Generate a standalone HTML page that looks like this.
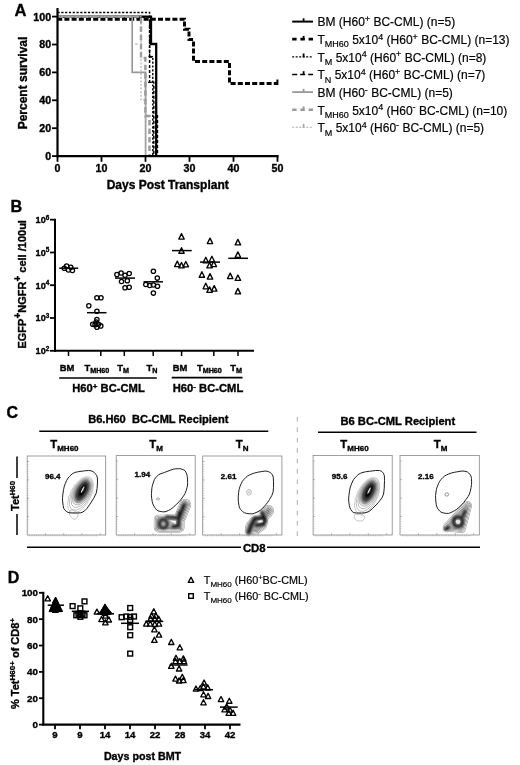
<!DOCTYPE html>
<html lang="en"><head><meta charset="utf-8"><title>Figure</title>
<style>html,body{margin:0;padding:0;background:#fff}svg{display:block}text{font-family:'Liberation Sans', sans-serif}text{stroke:#000;stroke-width:.18px}text[font-weight=bold]{stroke:#000;stroke-width:.35px}</style>
</head><body>
<svg width="520" height="765" viewBox="0 0 520 765">
<rect width="520" height="765" fill="#fff"/>
<g id="panelA">
<text x="14.6" y="15.6" font-size="16.6" font-weight="bold" text-anchor="start" fill="#000">A</text>
<path d="M57.2 16.6 H151 V44 H156.2 V156" stroke="#000" stroke-width="2.3" fill="none"/>
<path d="M57.2 19.3 H184.5 V29.2 H189 V39.6 H193.5 V61.5 H229.5 V83.5 H277.4" stroke="#000" stroke-width="3.0" fill="none" stroke-dasharray="5 2.2"/>
<line x1="277.4" y1="79.5" x2="277.4" y2="85" stroke="#000" stroke-width="2"/>
<path d="M57.5 12.5 H149.6 V57 H152.8 V156" stroke="#000" stroke-width="1.4" fill="none" stroke-dasharray="2.2 1.6"/>
<path d="M57.5 17 H149.6 V82.3 H153.8 V156" stroke="#000" stroke-width="1.5" fill="none" stroke-dasharray="3 2"/>
<path d="M157.4 115 V156" stroke="#000" stroke-width="1.6" fill="none" stroke-dasharray="3 2"/>
<path d="M57.2 16.6 H132.2 V72.3 H145.6 V156" stroke="#999" stroke-width="1.7" fill="none"/>
<path d="M57.5 16.6 H141 V58 H145.4 V116 H149.5 V156" stroke="#9a9a9a" stroke-width="2.4" fill="none" stroke-dasharray="5.5 3"/>
<path d="M57.2 16.6 H141 V100 H145.5 V156" stroke="#aaa" stroke-width="1.1" fill="none" stroke-dasharray="2 1.6"/>
<line x1="135" y1="44" x2="138" y2="44" stroke="#999" stroke-width="0.8"/>
<line x1="148.5" y1="56.5" x2="153" y2="56.5" stroke="#000" stroke-width="1.2"/>
<line x1="148" y1="82.3" x2="152" y2="82.3" stroke="#000" stroke-width="1.2"/>
<line x1="57.5" y1="8" x2="57.5" y2="157.2" stroke="#000" stroke-width="2.2"/>
<line x1="56.4" y1="156.1" x2="278.6" y2="156.1" stroke="#000" stroke-width="2.2"/>
<line x1="52" y1="156.1" x2="57.5" y2="156.1" stroke="#000" stroke-width="1.8"/>
<text x="51.2" y="160.0" font-size="10.7" font-weight="bold" text-anchor="end" fill="#000">0</text>
<line x1="52" y1="128.2" x2="57.5" y2="128.2" stroke="#000" stroke-width="1.8"/>
<text x="51.2" y="132.1" font-size="10.7" font-weight="bold" text-anchor="end" fill="#000">20</text>
<line x1="52" y1="100.3" x2="57.5" y2="100.3" stroke="#000" stroke-width="1.8"/>
<text x="51.2" y="104.2" font-size="10.7" font-weight="bold" text-anchor="end" fill="#000">40</text>
<line x1="52" y1="72.39999999999999" x2="57.5" y2="72.39999999999999" stroke="#000" stroke-width="1.8"/>
<text x="51.2" y="76.3" font-size="10.7" font-weight="bold" text-anchor="end" fill="#000">60</text>
<line x1="52" y1="44.5" x2="57.5" y2="44.5" stroke="#000" stroke-width="1.8"/>
<text x="51.2" y="48.4" font-size="10.7" font-weight="bold" text-anchor="end" fill="#000">80</text>
<line x1="52" y1="16.599999999999994" x2="57.5" y2="16.599999999999994" stroke="#000" stroke-width="1.8"/>
<text x="51.2" y="20.499999999999993" font-size="10.7" font-weight="bold" text-anchor="end" fill="#000">100</text>
<line x1="57.5" y1="156.1" x2="57.5" y2="161.8" stroke="#000" stroke-width="1.8"/>
<text x="57.5" y="172" font-size="10.7" font-weight="bold" text-anchor="middle" fill="#000">0</text>
<line x1="101.5" y1="156.1" x2="101.5" y2="161.8" stroke="#000" stroke-width="1.8"/>
<text x="101.5" y="172" font-size="10.7" font-weight="bold" text-anchor="middle" fill="#000">10</text>
<line x1="145.5" y1="156.1" x2="145.5" y2="161.8" stroke="#000" stroke-width="1.8"/>
<text x="145.5" y="172" font-size="10.7" font-weight="bold" text-anchor="middle" fill="#000">20</text>
<line x1="189.5" y1="156.1" x2="189.5" y2="161.8" stroke="#000" stroke-width="1.8"/>
<text x="189.5" y="172" font-size="10.7" font-weight="bold" text-anchor="middle" fill="#000">30</text>
<line x1="233.5" y1="156.1" x2="233.5" y2="161.8" stroke="#000" stroke-width="1.8"/>
<text x="233.5" y="172" font-size="10.7" font-weight="bold" text-anchor="middle" fill="#000">40</text>
<line x1="277.5" y1="156.1" x2="277.5" y2="161.8" stroke="#000" stroke-width="1.8"/>
<text x="277.5" y="172" font-size="10.7" font-weight="bold" text-anchor="middle" fill="#000">50</text>
<text x="26.7" y="83" font-size="12" font-weight="bold" text-anchor="middle" fill="#000" transform="rotate(-90 26.7 83)">Percent survival</text>
<text x="167.7" y="188.8" font-size="12" font-weight="bold" text-anchor="middle" fill="#000">Days Post Transplant</text>
</g>
<g id="legendA">
<line x1="292.2" y1="21.6" x2="313" y2="21.6" stroke="#000" stroke-width="2"/>
<line x1="303.6" y1="18.3" x2="303.6" y2="22.1" stroke="#000" stroke-width="1.8"/>
<text x="317.5" y="26.4" font-size="12" text-anchor="start" fill="#000">BM (H60<tspan font-size="9" dy="-4.4">+</tspan><tspan dy="4.4" font-size="0.1">&#8203;</tspan> BC-CML) (n=5)</text>
<line x1="292.2" y1="39.2" x2="313" y2="39.2" stroke="#000" stroke-width="2.8" stroke-dasharray="4.4 3.8"/>
<line x1="303.6" y1="35.9" x2="303.6" y2="39.7" stroke="#000" stroke-width="1.8"/>
<text x="317.5" y="44.0" font-size="12" text-anchor="start" fill="#000">T<tspan font-size="9" dy="3.4">MH60</tspan><tspan dy="-3.4" font-size="0.1">&#8203;</tspan> 5x10<tspan font-size="9" dy="-4.4">4</tspan><tspan dy="4.4" font-size="0.1">&#8203;</tspan> (H60<tspan font-size="9" dy="-4.4">+</tspan><tspan dy="4.4" font-size="0.1">&#8203;</tspan> BC-CML) (n=13)</text>
<line x1="292.2" y1="56.8" x2="313" y2="56.8" stroke="#000" stroke-width="1.2" stroke-dasharray="2 1.5"/>
<line x1="303.6" y1="53.5" x2="303.6" y2="57.3" stroke="#000" stroke-width="1.8"/>
<text x="317.5" y="61.6" font-size="12" text-anchor="start" fill="#000">T<tspan font-size="9" dy="3.4">M</tspan><tspan dy="-3.4" font-size="0.1">&#8203;</tspan> 5x10<tspan font-size="9" dy="-4.4">4</tspan><tspan dy="4.4" font-size="0.1">&#8203;</tspan> (H60<tspan font-size="9" dy="-4.4">+</tspan><tspan dy="4.4" font-size="0.1">&#8203;</tspan> BC-CML) (n=8)</text>
<line x1="292.2" y1="74.5" x2="313" y2="74.5" stroke="#000" stroke-width="1.7" stroke-dasharray="5 3"/>
<line x1="303.6" y1="71.2" x2="303.6" y2="75.0" stroke="#000" stroke-width="1.8"/>
<text x="317.5" y="79.3" font-size="12" text-anchor="start" fill="#000">T<tspan font-size="9" dy="3.4">N</tspan><tspan dy="-3.4" font-size="0.1">&#8203;</tspan> 5x10<tspan font-size="9" dy="-4.4">4</tspan><tspan dy="4.4" font-size="0.1">&#8203;</tspan> (H60<tspan font-size="9" dy="-4.4">+</tspan><tspan dy="4.4" font-size="0.1">&#8203;</tspan> BC-CML) (n=7)</text>
<line x1="292.2" y1="92.1" x2="313" y2="92.1" stroke="#999" stroke-width="1.8"/>
<line x1="303.6" y1="88.8" x2="303.6" y2="92.6" stroke="#999" stroke-width="1.8"/>
<text x="317.5" y="96.9" font-size="12" text-anchor="start" fill="#000">BM (H60<tspan font-size="9" dy="-4.4">-</tspan><tspan dy="4.4" font-size="0.1">&#8203;</tspan> BC-CML) (n=5)</text>
<line x1="292.2" y1="109.7" x2="313" y2="109.7" stroke="#9a9a9a" stroke-width="2.6" stroke-dasharray="4.4 3.8"/>
<line x1="303.6" y1="106.4" x2="303.6" y2="110.2" stroke="#9a9a9a" stroke-width="1.8"/>
<text x="317.5" y="114.5" font-size="12" text-anchor="start" fill="#000">T<tspan font-size="9" dy="3.4">MH60</tspan><tspan dy="-3.4" font-size="0.1">&#8203;</tspan> 5x10<tspan font-size="9" dy="-4.4">4</tspan><tspan dy="4.4" font-size="0.1">&#8203;</tspan> (H60<tspan font-size="9" dy="-4.4">-</tspan><tspan dy="4.4" font-size="0.1">&#8203;</tspan> BC-CML) (n=10)</text>
<line x1="292.2" y1="127.3" x2="313" y2="127.3" stroke="#aaa" stroke-width="1.1" stroke-dasharray="2 1.5"/>
<line x1="303.6" y1="124.0" x2="303.6" y2="127.8" stroke="#aaa" stroke-width="1.8"/>
<text x="317.5" y="132.1" font-size="12" text-anchor="start" fill="#000">T<tspan font-size="9" dy="3.4">M</tspan><tspan dy="-3.4" font-size="0.1">&#8203;</tspan> 5x10<tspan font-size="9" dy="-4.4">4</tspan><tspan dy="4.4" font-size="0.1">&#8203;</tspan> (H60<tspan font-size="9" dy="-4.4">-</tspan><tspan dy="4.4" font-size="0.1">&#8203;</tspan> BC-CML) (n=5)</text>
</g>
<g id="panelB">
<text x="10.6" y="212" font-size="16.2" font-weight="bold" text-anchor="start" fill="#000">B</text>
<line x1="55" y1="218.7" x2="55" y2="351.8" stroke="#000" stroke-width="2"/>
<line x1="54" y1="350.8" x2="254" y2="350.8" stroke="#000" stroke-width="2"/>
<line x1="50" y1="350.8" x2="55" y2="350.8" stroke="#000" stroke-width="1.8"/>
<text x="49.3" y="354.2" font-size="9.1" font-weight="bold" text-anchor="end" fill="#000">10<tspan font-size="6.4" dy="-3.6">2</tspan><tspan dy="3.6" font-size="0.1">&#8203;</tspan></text>
<line x1="50" y1="318" x2="55" y2="318" stroke="#000" stroke-width="1.8"/>
<text x="49.3" y="321.4" font-size="9.1" font-weight="bold" text-anchor="end" fill="#000">10<tspan font-size="6.4" dy="-3.6">3</tspan><tspan dy="3.6" font-size="0.1">&#8203;</tspan></text>
<line x1="50" y1="285.2" x2="55" y2="285.2" stroke="#000" stroke-width="1.8"/>
<text x="49.3" y="288.59999999999997" font-size="9.1" font-weight="bold" text-anchor="end" fill="#000">10<tspan font-size="6.4" dy="-3.6">4</tspan><tspan dy="3.6" font-size="0.1">&#8203;</tspan></text>
<line x1="50" y1="252.5" x2="55" y2="252.5" stroke="#000" stroke-width="1.8"/>
<text x="49.3" y="255.9" font-size="9.1" font-weight="bold" text-anchor="end" fill="#000">10<tspan font-size="6.4" dy="-3.6">5</tspan><tspan dy="3.6" font-size="0.1">&#8203;</tspan></text>
<line x1="50" y1="219.7" x2="55" y2="219.7" stroke="#000" stroke-width="1.8"/>
<text x="49.3" y="223.1" font-size="9.1" font-weight="bold" text-anchor="end" fill="#000">10<tspan font-size="6.4" dy="-3.6">6</tspan><tspan dy="3.6" font-size="0.1">&#8203;</tspan></text>
<line x1="68.5" y1="350.8" x2="68.5" y2="356" stroke="#000" stroke-width="1.5"/>
<line x1="100.8" y1="350.8" x2="100.8" y2="356" stroke="#000" stroke-width="1.5"/>
<line x1="124.3" y1="350.8" x2="124.3" y2="356" stroke="#000" stroke-width="1.5"/>
<line x1="153.2" y1="350.8" x2="153.2" y2="356" stroke="#000" stroke-width="1.5"/>
<line x1="181.6" y1="350.8" x2="181.6" y2="356" stroke="#000" stroke-width="1.5"/>
<line x1="213.8" y1="350.8" x2="213.8" y2="356" stroke="#000" stroke-width="1.5"/>
<line x1="238" y1="350.8" x2="238" y2="356" stroke="#000" stroke-width="1.5"/>
<text x="26.3" y="284.3" font-size="11" font-weight="bold" text-anchor="middle" fill="#000" transform="rotate(-90 26.3 284.3)">EGFP<tspan font-size="10" dy="-5">+</tspan><tspan dy="5" font-size="0.1">&#8203;</tspan>NGFR<tspan font-size="10" dy="-5">+</tspan><tspan dy="5" font-size="0.1">&#8203;</tspan> cell /100ul</text>
<circle cx="64.3" cy="268.2" r="2.15" fill="none" stroke="#000" stroke-width="1.3"/>
<circle cx="66.6" cy="266.1" r="2.15" fill="none" stroke="#000" stroke-width="1.3"/>
<circle cx="68.5" cy="270" r="2.15" fill="none" stroke="#000" stroke-width="1.3"/>
<circle cx="70.8" cy="267.2" r="2.15" fill="none" stroke="#000" stroke-width="1.3"/>
<circle cx="72.4" cy="270.5" r="2.15" fill="none" stroke="#000" stroke-width="1.3"/>
<line x1="59.2" y1="268.2" x2="78.2" y2="268.2" stroke="#000" stroke-width="1.5"/>
<circle cx="96.9" cy="297.7" r="2.15" fill="none" stroke="#000" stroke-width="1.3"/>
<circle cx="101" cy="297.7" r="2.15" fill="none" stroke="#000" stroke-width="1.3"/>
<circle cx="88.8" cy="305.8" r="2.15" fill="none" stroke="#000" stroke-width="1.3"/>
<circle cx="96.9" cy="311.3" r="2.15" fill="none" stroke="#000" stroke-width="1.3"/>
<circle cx="96.9" cy="319.6" r="2.15" fill="none" stroke="#000" stroke-width="1.3"/>
<circle cx="96.2" cy="322" r="2.15" fill="none" stroke="#000" stroke-width="1.3"/>
<circle cx="92.7" cy="324.2" r="2.15" fill="none" stroke="#000" stroke-width="1.3"/>
<circle cx="95" cy="324.7" r="2.15" fill="none" stroke="#000" stroke-width="1.3"/>
<circle cx="98.5" cy="324.2" r="2.15" fill="none" stroke="#000" stroke-width="1.3"/>
<circle cx="100.8" cy="325.9" r="2.15" fill="none" stroke="#000" stroke-width="1.3"/>
<circle cx="96.9" cy="327.2" r="2.15" fill="none" stroke="#000" stroke-width="1.3"/>
<line x1="87" y1="312.7" x2="106.5" y2="312.7" stroke="#000" stroke-width="1.5"/>
<circle cx="116.9" cy="274.6" r="2.15" fill="none" stroke="#000" stroke-width="1.3"/>
<circle cx="121.1" cy="273" r="2.15" fill="none" stroke="#000" stroke-width="1.3"/>
<circle cx="125" cy="275.3" r="2.15" fill="none" stroke="#000" stroke-width="1.3"/>
<circle cx="129.2" cy="273.5" r="2.15" fill="none" stroke="#000" stroke-width="1.3"/>
<circle cx="121.5" cy="281.5" r="2.15" fill="none" stroke="#000" stroke-width="1.3"/>
<circle cx="127.3" cy="280.8" r="2.15" fill="none" stroke="#000" stroke-width="1.3"/>
<circle cx="125" cy="287.8" r="2.15" fill="none" stroke="#000" stroke-width="1.3"/>
<circle cx="129.2" cy="287.3" r="2.15" fill="none" stroke="#000" stroke-width="1.3"/>
<line x1="115" y1="278.1" x2="135" y2="278.1" stroke="#000" stroke-width="1.5"/>
<circle cx="153.4" cy="271.2" r="2.15" fill="none" stroke="#000" stroke-width="1.3"/>
<circle cx="157.3" cy="278.1" r="2.15" fill="none" stroke="#000" stroke-width="1.3"/>
<circle cx="145.8" cy="284.5" r="2.15" fill="none" stroke="#000" stroke-width="1.3"/>
<circle cx="149.7" cy="285.5" r="2.15" fill="none" stroke="#000" stroke-width="1.3"/>
<circle cx="153.4" cy="285" r="2.15" fill="none" stroke="#000" stroke-width="1.3"/>
<circle cx="157.5" cy="286.2" r="2.15" fill="none" stroke="#000" stroke-width="1.3"/>
<circle cx="153.4" cy="293.1" r="2.15" fill="none" stroke="#000" stroke-width="1.3"/>
<line x1="143.5" y1="281.8" x2="163" y2="281.8" stroke="#000" stroke-width="1.5"/>
<path d="M178.8 239.1 L181.5 233.6 L184.2 239.1 Z" fill="none" stroke="#000" stroke-width="1.35" stroke-linejoin="round"/>
<path d="M178.8 253.2 L181.5 247.7 L184.2 253.2 Z" fill="none" stroke="#000" stroke-width="1.35" stroke-linejoin="round"/>
<path d="M174.6 266.6 L177.3 261.1 L180.0 266.6 Z" fill="none" stroke="#000" stroke-width="1.35" stroke-linejoin="round"/>
<path d="M178.8 267.9 L181.5 262.5 L184.2 267.9 Z" fill="none" stroke="#000" stroke-width="1.35" stroke-linejoin="round"/>
<path d="M183.1 266.9 L185.8 261.5 L188.5 266.9 Z" fill="none" stroke="#000" stroke-width="1.35" stroke-linejoin="round"/>
<line x1="172" y1="250.6" x2="191.7" y2="250.6" stroke="#000" stroke-width="1.5"/>
<path d="M207.3 243.6 L210.0 238.1 L212.7 243.6 Z" fill="none" stroke="#000" stroke-width="1.35" stroke-linejoin="round"/>
<path d="M203.1 262.8 L205.8 257.3 L208.5 262.8 Z" fill="none" stroke="#000" stroke-width="1.35" stroke-linejoin="round"/>
<path d="M209.2 261.8 L211.9 256.3 L214.6 261.8 Z" fill="none" stroke="#000" stroke-width="1.35" stroke-linejoin="round"/>
<path d="M206.9 267.9 L209.6 262.5 L212.3 267.9 Z" fill="none" stroke="#000" stroke-width="1.35" stroke-linejoin="round"/>
<path d="M211.1 266.6 L213.8 261.1 L216.5 266.6 Z" fill="none" stroke="#000" stroke-width="1.35" stroke-linejoin="round"/>
<path d="M199.2 277.2 L201.9 271.7 L204.6 277.2 Z" fill="none" stroke="#000" stroke-width="1.35" stroke-linejoin="round"/>
<path d="M207.3 279.1 L210.0 273.6 L212.7 279.1 Z" fill="none" stroke="#000" stroke-width="1.35" stroke-linejoin="round"/>
<path d="M203.1 288.8 L205.8 283.3 L208.5 288.8 Z" fill="none" stroke="#000" stroke-width="1.35" stroke-linejoin="round"/>
<path d="M206.9 292.4 L209.6 286.9 L212.3 292.4 Z" fill="none" stroke="#000" stroke-width="1.35" stroke-linejoin="round"/>
<path d="M211.5 291.1 L214.2 285.6 L216.9 291.1 Z" fill="none" stroke="#000" stroke-width="1.35" stroke-linejoin="round"/>
<line x1="200" y1="262.1" x2="220" y2="262.1" stroke="#000" stroke-width="1.5"/>
<path d="M235.2 244.9 L237.9 239.4 L240.6 244.9 Z" fill="none" stroke="#000" stroke-width="1.35" stroke-linejoin="round"/>
<path d="M235.2 257.4 L237.9 251.9 L240.6 257.4 Z" fill="none" stroke="#000" stroke-width="1.35" stroke-linejoin="round"/>
<path d="M227.5 278.6 L230.2 273.1 L232.9 278.6 Z" fill="none" stroke="#000" stroke-width="1.35" stroke-linejoin="round"/>
<path d="M235.2 280.4 L237.9 275.0 L240.6 280.4 Z" fill="none" stroke="#000" stroke-width="1.35" stroke-linejoin="round"/>
<path d="M235.2 293.9 L237.9 288.4 L240.6 293.9 Z" fill="none" stroke="#000" stroke-width="1.35" stroke-linejoin="round"/>
<line x1="228.3" y1="258.3" x2="248" y2="258.3" stroke="#000" stroke-width="1.5"/>
<text x="67" y="370.5" font-size="9.4" font-weight="bold" text-anchor="middle" fill="#000">BM</text>
<text x="96.9" y="370.5" font-size="9.4" font-weight="bold" text-anchor="middle" fill="#000">T<tspan font-size="7.2" dy="2.3">MH60</tspan><tspan dy="-2.3" font-size="0.1">&#8203;</tspan></text>
<text x="123.2" y="370.5" font-size="9.4" font-weight="bold" text-anchor="middle" fill="#000">T<tspan font-size="7.2" dy="2.3">M</tspan><tspan dy="-2.3" font-size="0.1">&#8203;</tspan></text>
<text x="151.9" y="370.5" font-size="9.4" font-weight="bold" text-anchor="middle" fill="#000">T<tspan font-size="7.2" dy="2.3">N</tspan><tspan dy="-2.3" font-size="0.1">&#8203;</tspan></text>
<text x="180" y="370.5" font-size="9.4" font-weight="bold" text-anchor="middle" fill="#000">BM</text>
<text x="209.4" y="370.5" font-size="9.4" font-weight="bold" text-anchor="middle" fill="#000">T<tspan font-size="7.2" dy="2.3">MH60</tspan><tspan dy="-2.3" font-size="0.1">&#8203;</tspan></text>
<text x="236.2" y="370.5" font-size="9.4" font-weight="bold" text-anchor="middle" fill="#000">T<tspan font-size="7.2" dy="2.3">M</tspan><tspan dy="-2.3" font-size="0.1">&#8203;</tspan></text>
<line x1="59.2" y1="378" x2="156.8" y2="378" stroke="#000" stroke-width="1.6"/>
<line x1="171.7" y1="377.6" x2="242.5" y2="377.6" stroke="#000" stroke-width="1.6"/>
<text x="108.5" y="392" font-size="11.2" font-weight="bold" text-anchor="middle" fill="#000">H60<tspan font-size="8" dy="-3.5">+</tspan><tspan dy="3.5" font-size="0.1">&#8203;</tspan> BC-CML</text>
<text x="208" y="392" font-size="11.2" font-weight="bold" text-anchor="middle" fill="#000">H60<tspan font-size="8" dy="-3.5">-</tspan><tspan dy="3.5" font-size="0.1">&#8203;</tspan> BC-CML</text>
</g>
<defs>
<radialGradient id="gb"><stop offset="0" stop-color="#000" stop-opacity="0.95"/><stop offset="0.35" stop-color="#222" stop-opacity="0.8"/><stop offset="0.7" stop-color="#777" stop-opacity="0.45"/><stop offset="1" stop-color="#bbb" stop-opacity="0"/></radialGradient>
<filter id="bl" x="-30%" y="-30%" width="160%" height="160%"><feGaussianBlur stdDeviation="1.1"/></filter><filter id="bl2" x="-30%" y="-30%" width="160%" height="160%"><feGaussianBlur stdDeviation="0.6"/></filter>
<filter id="bl3" x="-30%" y="-30%" width="160%" height="160%"><feGaussianBlur stdDeviation="0.85"/></filter>
</defs>
<g id="panelC">
<text x="6.5" y="418" font-size="16" font-weight="bold" text-anchor="start" fill="#000">C</text>
<text x="158.3" y="423" font-size="11.1" font-weight="bold" text-anchor="middle" fill="#000">B6.H60&#160; BC-CML Recipient</text>
<text x="397.8" y="425" font-size="11.2" font-weight="bold" text-anchor="middle" fill="#000">B6 BC-CML Recipient</text>
<line x1="39.3" y1="431.3" x2="268.3" y2="431.3" stroke="#000" stroke-width="1.5"/>
<line x1="318" y1="432.3" x2="476.5" y2="432.3" stroke="#000" stroke-width="1.5"/>
<line x1="297.3" y1="417" x2="297.3" y2="536" stroke="#aaa" stroke-width="1" stroke-dasharray="4.6 5.8"/>
<text x="64.4" y="448.2" font-size="11.4" font-weight="bold" text-anchor="middle" fill="#000">T<tspan font-size="8" dy="2.8">MH60</tspan><tspan dy="-2.8" font-size="0.1">&#8203;</tspan></text>
<text x="156" y="448.2" font-size="11.4" font-weight="bold" text-anchor="middle" fill="#000">T<tspan font-size="8" dy="2.8">M</tspan><tspan dy="-2.8" font-size="0.1">&#8203;</tspan></text>
<text x="242.2" y="448.2" font-size="11.4" font-weight="bold" text-anchor="middle" fill="#000">T<tspan font-size="8" dy="2.8">N</tspan><tspan dy="-2.8" font-size="0.1">&#8203;</tspan></text>
<text x="354.5" y="448" font-size="11.4" font-weight="bold" text-anchor="middle" fill="#000">T<tspan font-size="8" dy="2.8">MH60</tspan><tspan dy="-2.8" font-size="0.1">&#8203;</tspan></text>
<text x="440.5" y="448" font-size="11.4" font-weight="bold" text-anchor="middle" fill="#000">T<tspan font-size="8" dy="2.8">M</tspan><tspan dy="-2.8" font-size="0.1">&#8203;</tspan></text>
<rect x="27.2" y="456" width="78.5" height="79" fill="none" stroke="#888" stroke-width="0.8"/>
<line x1="27.2" y1="516.6279069767442" x2="29.0" y2="516.6279069767442" stroke="#888" stroke-width="0.6"/>
<line x1="45.455813953488374" y1="535" x2="45.455813953488374" y2="533.2" stroke="#888" stroke-width="0.6"/>
<line x1="27.2" y1="498.25581395348837" x2="29.0" y2="498.25581395348837" stroke="#888" stroke-width="0.6"/>
<line x1="63.711627906976744" y1="535" x2="63.711627906976744" y2="533.2" stroke="#888" stroke-width="0.6"/>
<line x1="27.2" y1="479.8837209302326" x2="29.0" y2="479.8837209302326" stroke="#888" stroke-width="0.6"/>
<line x1="81.96744186046512" y1="535" x2="81.96744186046512" y2="533.2" stroke="#888" stroke-width="0.6"/>
<line x1="27.2" y1="461.51162790697674" x2="29.0" y2="461.51162790697674" stroke="#888" stroke-width="0.6"/>
<line x1="100.2232558139535" y1="535" x2="100.2232558139535" y2="533.2" stroke="#888" stroke-width="0.6"/>
<line x1="29.2" y1="535.8" x2="97.7" y2="535.8" stroke="#999" stroke-width="0.8" stroke-dasharray="1 1.3"/>
<line x1="28.099999999999998" y1="464" x2="28.099999999999998" y2="532" stroke="#aaa" stroke-width="0.7" stroke-dasharray="0.8 1.6"/>
<rect x="116.2" y="455.6" width="79" height="79.4" fill="none" stroke="#888" stroke-width="0.8"/>
<line x1="116.2" y1="516.5348837209302" x2="118.0" y2="516.5348837209302" stroke="#888" stroke-width="0.6"/>
<line x1="134.57209302325583" y1="535.0" x2="134.57209302325583" y2="533.2" stroke="#888" stroke-width="0.6"/>
<line x1="116.2" y1="498.06976744186045" x2="118.0" y2="498.06976744186045" stroke="#888" stroke-width="0.6"/>
<line x1="152.94418604651162" y1="535.0" x2="152.94418604651162" y2="533.2" stroke="#888" stroke-width="0.6"/>
<line x1="116.2" y1="479.6046511627907" x2="118.0" y2="479.6046511627907" stroke="#888" stroke-width="0.6"/>
<line x1="171.31627906976746" y1="535.0" x2="171.31627906976746" y2="533.2" stroke="#888" stroke-width="0.6"/>
<line x1="116.2" y1="461.1395348837209" x2="118.0" y2="461.1395348837209" stroke="#888" stroke-width="0.6"/>
<line x1="189.68837209302325" y1="535.0" x2="189.68837209302325" y2="533.2" stroke="#888" stroke-width="0.6"/>
<line x1="118.2" y1="535.8" x2="187.2" y2="535.8" stroke="#999" stroke-width="0.8" stroke-dasharray="1 1.3"/>
<line x1="117.10000000000001" y1="463.6" x2="117.10000000000001" y2="532.0" stroke="#aaa" stroke-width="0.7" stroke-dasharray="0.8 1.6"/>
<rect x="202.7" y="456" width="79.2" height="79" fill="none" stroke="#888" stroke-width="0.8"/>
<line x1="202.7" y1="516.6279069767442" x2="204.5" y2="516.6279069767442" stroke="#888" stroke-width="0.6"/>
<line x1="221.11860465116277" y1="535" x2="221.11860465116277" y2="533.2" stroke="#888" stroke-width="0.6"/>
<line x1="202.7" y1="498.25581395348837" x2="204.5" y2="498.25581395348837" stroke="#888" stroke-width="0.6"/>
<line x1="239.53720930232558" y1="535" x2="239.53720930232558" y2="533.2" stroke="#888" stroke-width="0.6"/>
<line x1="202.7" y1="479.8837209302326" x2="204.5" y2="479.8837209302326" stroke="#888" stroke-width="0.6"/>
<line x1="257.95581395348836" y1="535" x2="257.95581395348836" y2="533.2" stroke="#888" stroke-width="0.6"/>
<line x1="202.7" y1="461.51162790697674" x2="204.5" y2="461.51162790697674" stroke="#888" stroke-width="0.6"/>
<line x1="276.37441860465117" y1="535" x2="276.37441860465117" y2="533.2" stroke="#888" stroke-width="0.6"/>
<line x1="204.7" y1="535.8" x2="273.9" y2="535.8" stroke="#999" stroke-width="0.8" stroke-dasharray="1 1.3"/>
<line x1="203.6" y1="464" x2="203.6" y2="532" stroke="#aaa" stroke-width="0.7" stroke-dasharray="0.8 1.6"/>
<rect x="313.1" y="455.5" width="79.1" height="79.5" fill="none" stroke="#888" stroke-width="0.8"/>
<line x1="313.1" y1="516.5116279069767" x2="314.90000000000003" y2="516.5116279069767" stroke="#888" stroke-width="0.6"/>
<line x1="331.49534883720935" y1="535.0" x2="331.49534883720935" y2="533.2" stroke="#888" stroke-width="0.6"/>
<line x1="313.1" y1="498.0232558139535" x2="314.90000000000003" y2="498.0232558139535" stroke="#888" stroke-width="0.6"/>
<line x1="349.8906976744186" y1="535.0" x2="349.8906976744186" y2="533.2" stroke="#888" stroke-width="0.6"/>
<line x1="313.1" y1="479.5348837209302" x2="314.90000000000003" y2="479.5348837209302" stroke="#888" stroke-width="0.6"/>
<line x1="368.28604651162794" y1="535.0" x2="368.28604651162794" y2="533.2" stroke="#888" stroke-width="0.6"/>
<line x1="313.1" y1="461.04651162790697" x2="314.90000000000003" y2="461.04651162790697" stroke="#888" stroke-width="0.6"/>
<line x1="386.6813953488372" y1="535.0" x2="386.6813953488372" y2="533.2" stroke="#888" stroke-width="0.6"/>
<line x1="315.1" y1="535.8" x2="384.20000000000005" y2="535.8" stroke="#999" stroke-width="0.8" stroke-dasharray="1 1.3"/>
<line x1="314.0" y1="463.5" x2="314.0" y2="532.0" stroke="#aaa" stroke-width="0.7" stroke-dasharray="0.8 1.6"/>
<rect x="400" y="455.5" width="79.3" height="79.5" fill="none" stroke="#888" stroke-width="0.8"/>
<line x1="400" y1="516.5116279069767" x2="401.8" y2="516.5116279069767" stroke="#888" stroke-width="0.6"/>
<line x1="418.4418604651163" y1="535.0" x2="418.4418604651163" y2="533.2" stroke="#888" stroke-width="0.6"/>
<line x1="400" y1="498.0232558139535" x2="401.8" y2="498.0232558139535" stroke="#888" stroke-width="0.6"/>
<line x1="436.8837209302326" y1="535.0" x2="436.8837209302326" y2="533.2" stroke="#888" stroke-width="0.6"/>
<line x1="400" y1="479.5348837209302" x2="401.8" y2="479.5348837209302" stroke="#888" stroke-width="0.6"/>
<line x1="455.3255813953488" y1="535.0" x2="455.3255813953488" y2="533.2" stroke="#888" stroke-width="0.6"/>
<line x1="400" y1="461.04651162790697" x2="401.8" y2="461.04651162790697" stroke="#888" stroke-width="0.6"/>
<line x1="473.7674418604651" y1="535.0" x2="473.7674418604651" y2="533.2" stroke="#888" stroke-width="0.6"/>
<line x1="402" y1="535.8" x2="471.3" y2="535.8" stroke="#999" stroke-width="0.8" stroke-dasharray="1 1.3"/>
<line x1="400.9" y1="463.5" x2="400.9" y2="532.0" stroke="#aaa" stroke-width="0.7" stroke-dasharray="0.8 1.6"/>
<g transform="rotate(-62 82.3 490.8)">
<ellipse cx="78.0" cy="491.1" rx="19.8" ry="10.2" fill="#fff" fill-opacity="0.0" stroke="#aaa" stroke-width="0.55"/>
<ellipse cx="78.9" cy="491.1" rx="17.8" ry="9.1" fill="#fff" fill-opacity="0.0" stroke="#999" stroke-width="0.55"/>
<ellipse cx="79.8" cy="491.0" rx="15.8" ry="8.1" fill="#fff" fill-opacity="0.0" stroke="#8c8c8c" stroke-width="0.55"/>
<ellipse cx="80.7" cy="490.9" rx="14" ry="7.2" fill="#fff" fill-opacity="0.0" stroke="#808080" stroke-width="0.55"/>
<ellipse cx="81.5" cy="490.8" rx="12.3" ry="6.4" fill="#fff" fill-opacity="0.0" stroke="#777" stroke-width="0.55"/>
<g filter="url(#bl)"><ellipse cx="81.8" cy="490.8" rx="13" ry="6.6" fill="#8a8a8a"/><ellipse cx="82.3" cy="490.8" rx="10.6" ry="5.2" fill="#3a3a3a"/><ellipse cx="82.8" cy="490.8" rx="7.5" ry="3.4" fill="#000"/></g>
<ellipse cx="82.3" cy="490.8" rx="10.8" ry="5.4" fill="none" stroke="#555" stroke-width="0.5"/>
<ellipse cx="82.3" cy="490.8" rx="9.2" ry="4.5" fill="none" stroke="#333" stroke-width="0.5"/>
<ellipse cx="83.5" cy="490.6" rx="3.6" ry="0.75" fill="#fff" filter="url(#bl2)"/>
</g>
<path d="M69.6 511.2 Q70.0 509.0 72.8 510.2 L74.2 510.8 Q77.0 512.0 77.6 513.2 L77.9 513.8 Q78.5 515.0 77.3 516.8 L76.7 517.7 Q75.5 519.5 74.4 519.3 L73.9 519.2 Q72.8 519.0 71.3 517.2 L70.5 516.3 Q69.0 514.5 69.4 512.3 Z" stroke="#999" stroke-width="0.55" fill="none" stroke-linejoin="round"/>
<path d="M72.1 473.9 Q74.0 472.2 78.7 471.6 L84.8 470.8 Q89.5 470.2 91.0 470.8 L92.9 471.6 Q94.4 472.2 95.4 473.7 L96.7 475.6 Q97.7 477.1 97.5 482.0 L97.1 488.5 Q96.9 493.4 93.7 498.3 L89.5 504.8 Q86.3 509.7 84.8 510.7 L82.9 512.0 Q81.4 513.0 77.5 513.0 L72.2 513.0 Q68.3 513.0 66.8 511.8 L64.9 510.1 Q63.4 508.9 63.1 505.5 L62.6 500.9 Q62.3 497.5 62.9 494.1 L63.6 489.4 Q64.2 486.0 65.3 483.6 L66.7 480.3 Q67.8 477.9 69.7 476.2 Z" stroke="#1a1a1a" stroke-width="0.98" fill="none" stroke-linejoin="round"/>
<text x="52.8" y="478.7" font-size="8" font-weight="bold" text-anchor="middle" fill="#000">96.4</text>
<g transform="rotate(-64 368.8 491.8)">
<ellipse cx="364.5" cy="492.1" rx="19.8" ry="10.2" fill="#fff" fill-opacity="0.0" stroke="#aaa" stroke-width="0.55"/>
<ellipse cx="365.4" cy="492.1" rx="17.8" ry="9.1" fill="#fff" fill-opacity="0.0" stroke="#999" stroke-width="0.55"/>
<ellipse cx="366.3" cy="492.0" rx="15.8" ry="8.1" fill="#fff" fill-opacity="0.0" stroke="#8c8c8c" stroke-width="0.55"/>
<ellipse cx="367.2" cy="491.9" rx="14" ry="7.2" fill="#fff" fill-opacity="0.0" stroke="#808080" stroke-width="0.55"/>
<ellipse cx="368.0" cy="491.8" rx="12.3" ry="6.4" fill="#fff" fill-opacity="0.0" stroke="#777" stroke-width="0.55"/>
<g filter="url(#bl)"><ellipse cx="368.3" cy="491.8" rx="13" ry="6.6" fill="#8a8a8a"/><ellipse cx="368.8" cy="491.8" rx="10.6" ry="5.2" fill="#3a3a3a"/><ellipse cx="369.3" cy="491.8" rx="7.5" ry="3.4" fill="#000"/></g>
<ellipse cx="368.8" cy="491.8" rx="10.8" ry="5.4" fill="none" stroke="#555" stroke-width="0.5"/>
<ellipse cx="368.8" cy="491.8" rx="9.2" ry="4.5" fill="none" stroke="#333" stroke-width="0.5"/>
<ellipse cx="370.0" cy="491.6" rx="3.6" ry="0.75" fill="#fff" filter="url(#bl2)"/>
</g>
<path d="M354.3 515.6 Q354.5 514.0 357.9 514.4 L359.6 514.6 Q363.0 515.0 363.9 515.8 L364.4 516.2 Q365.3 517.0 364.4 518.6 L363.9 519.4 Q363.0 521.0 360.6 521.0 L359.4 521.0 Q357.0 521.0 355.8 519.8 L355.2 519.2 Q354.0 518.0 354.2 516.4 Z" stroke="#999" stroke-width="0.55" fill="none" stroke-linejoin="round"/>
<path d="M363.0 472.4 Q364.7 471.8 369.4 471.3 L375.6 470.5 Q380.3 470.0 381.7 471.4 L383.4 473.2 Q384.8 474.6 384.5 480.7 L384.2 488.9 Q383.9 495.0 382.3 497.2 L380.2 500.2 Q378.6 502.4 375.9 505.1 L372.3 508.7 Q369.6 511.4 368.1 511.9 L366.2 512.5 Q364.7 513.0 361.3 513.0 L356.7 513.0 Q353.3 513.0 352.2 511.5 L350.8 509.6 Q349.7 508.1 349.3 505.4 L348.8 501.8 Q348.4 499.1 348.9 495.7 L349.5 491.1 Q350.0 487.7 351.0 485.2 L352.3 482.0 Q353.3 479.5 355.0 477.8 L357.3 475.5 Q359.0 473.8 360.7 473.2 Z" stroke="#1a1a1a" stroke-width="0.98" fill="none" stroke-linejoin="round"/>
<text x="339.6" y="478.7" font-size="8" font-weight="bold" text-anchor="middle" fill="#000">95.6</text>
<path d="M158.8 519.8 L179.5 519.8 L179.5 527.6 L158.8 527.6 Z" fill="#8e8e8e" stroke="#8e8e8e" stroke-width="9.9" stroke-linecap="round" stroke-linejoin="round"/>
<path d="M180 518 L182.5 511.5 L185.2 504.8" fill="none" stroke="#8e8e8e" stroke-width="11.8" stroke-linecap="round" stroke-linejoin="round"/>
<path d="M158.8 519.8 L179.5 519.8 L179.5 527.6 L158.8 527.6 Z" fill="#fbfbfb" stroke="#fbfbfb" stroke-width="8.9" stroke-linecap="round" stroke-linejoin="round"/>
<path d="M180 518 L182.5 511.5 L185.2 504.8" fill="none" stroke="#fbfbfb" stroke-width="10.8" stroke-linecap="round" stroke-linejoin="round"/>
<path d="M158.8 519.8 L179.5 519.8 L179.5 527.6 L158.8 527.6 Z" fill="#808080" stroke="#808080" stroke-width="7.6" stroke-linecap="round" stroke-linejoin="round"/>
<path d="M180 518 L182.5 511.5 L185.2 504.8" fill="none" stroke="#808080" stroke-width="9.5" stroke-linecap="round" stroke-linejoin="round"/>
<path d="M158.8 519.8 L179.5 519.8 L179.5 527.6 L158.8 527.6 Z" fill="#efefef" stroke="#efefef" stroke-width="6.6" stroke-linecap="round" stroke-linejoin="round"/>
<path d="M180 518 L182.5 511.5 L185.2 504.8" fill="none" stroke="#efefef" stroke-width="8.5" stroke-linecap="round" stroke-linejoin="round"/>
<path d="M158.8 519.8 L179.5 519.8 L179.5 527.6 L158.8 527.6 Z" fill="#747474" stroke="#747474" stroke-width="5.3" stroke-linecap="round" stroke-linejoin="round"/>
<path d="M180 518 L182.5 511.5 L185.2 504.8" fill="none" stroke="#747474" stroke-width="7.2" stroke-linecap="round" stroke-linejoin="round"/>
<path d="M158.8 519.8 L179.5 519.8 L179.5 527.6 L158.8 527.6 Z" fill="#dcdcdc" stroke="#dcdcdc" stroke-width="4.3" stroke-linecap="round" stroke-linejoin="round"/>
<path d="M180 518 L182.5 511.5 L185.2 504.8" fill="none" stroke="#dcdcdc" stroke-width="6.2" stroke-linecap="round" stroke-linejoin="round"/>
<path d="M158.8 519.8 L179.5 519.8 L179.5 527.6 L158.8 527.6 Z" fill="#666" stroke="#666" stroke-width="3.0" stroke-linecap="round" stroke-linejoin="round"/>
<path d="M180 518 L182.5 511.5 L185.2 504.8" fill="none" stroke="#666" stroke-width="4.9" stroke-linecap="round" stroke-linejoin="round"/>
<path d="M158.8 519.8 L179.5 519.8 L179.5 527.6 L158.8 527.6 Z" fill="#c4c4c4" stroke="#c4c4c4" stroke-width="2.0" stroke-linecap="round" stroke-linejoin="round"/>
<path d="M180 518 L182.5 511.5 L185.2 504.8" fill="none" stroke="#c4c4c4" stroke-width="3.9" stroke-linecap="round" stroke-linejoin="round"/>
<path d="M158.8 519.8 L179.5 519.8 L179.5 527.6 L158.8 527.6 Z" fill="#5c5c5c" stroke="#5c5c5c" stroke-width="0.7" stroke-linecap="round" stroke-linejoin="round"/>
<path d="M180 518 L182.5 511.5 L185.2 504.8" fill="none" stroke="#5c5c5c" stroke-width="2.6" stroke-linecap="round" stroke-linejoin="round"/>
<path d="M158.8 519.8 L179.5 519.8 L179.5 527.6 L158.8 527.6 Z" fill="#b0b0b0" stroke="#b0b0b0" stroke-width="0.1" stroke-linecap="round" stroke-linejoin="round"/>
<path d="M180 518 L182.5 511.5 L185.2 504.8" fill="none" stroke="#b0b0b0" stroke-width="1.6" stroke-linecap="round" stroke-linejoin="round"/>
<g filter="url(#bl3)">
<path d="M160.3 521 Q163.2 518 166.4 521 Q168.4 524 166.4 526.8 Q163.2 529.4 160.3 526.8 Q158.6 524 160.3 521 Z" fill="none" stroke="#707070" stroke-width="3.4" stroke-linecap="round" stroke-linejoin="round"/>
<path d="M166.5 516.9 L176.5 517.6" fill="none" stroke="#707070" stroke-width="3.5" stroke-linecap="round" stroke-linejoin="round"/>
<path d="M179.2 512.5 L178.4 525.8 L173 526.6" fill="none" stroke="#707070" stroke-width="4.2" stroke-linecap="round" stroke-linejoin="round"/>
<path d="M179 518 L181.6 511 L184 505" fill="none" stroke="#707070" stroke-width="4.8" stroke-linecap="round" stroke-linejoin="round"/>
<path d="M160.3 521 Q163.2 518 166.4 521 Q168.4 524 166.4 526.8 Q163.2 529.4 160.3 526.8 Q158.6 524 160.3 521 Z" fill="none" stroke="#2a2a2a" stroke-width="2.2" stroke-linecap="round" stroke-linejoin="round"/>
<path d="M166.5 516.9 L176.5 517.6" fill="none" stroke="#2a2a2a" stroke-width="2.3" stroke-linecap="round" stroke-linejoin="round"/>
<path d="M179.2 512.5 L178.4 525.8 L173 526.6" fill="none" stroke="#2a2a2a" stroke-width="2.8" stroke-linecap="round" stroke-linejoin="round"/>
<path d="M179 518 L181.6 511 L184 505" fill="none" stroke="#2a2a2a" stroke-width="3.1" stroke-linecap="round" stroke-linejoin="round"/>
<path d="M160.3 521 Q163.2 518 166.4 521 Q168.4 524 166.4 526.8 Q163.2 529.4 160.3 526.8 Q158.6 524 160.3 521 Z" fill="none" stroke="#000" stroke-width="1.4" stroke-linecap="round" stroke-linejoin="round"/>
<path d="M166.5 516.9 L176.5 517.6" fill="none" stroke="#000" stroke-width="1.4" stroke-linecap="round" stroke-linejoin="round"/>
<path d="M179.2 512.5 L178.4 525.8 L173 526.6" fill="none" stroke="#000" stroke-width="1.7" stroke-linecap="round" stroke-linejoin="round"/>
<path d="M179 518 L181.6 511 L184 505" fill="none" stroke="#000" stroke-width="2.0" stroke-linecap="round" stroke-linejoin="round"/>
</g>
<path d="M169.5 520.2 L176 521 L175.6 524.3 Z" fill="#f4f4f4" filter="url(#bl2)"/>
<ellipse cx="158" cy="499" rx="1.6" ry="1.1" fill="none" stroke="#777" stroke-width="0.6"/>
<path d="M162.3 473.2 Q164.0 472.6 166.9 471.5 L170.9 470.0 Q173.8 468.9 175.8 468.8 L178.4 468.7 Q180.4 468.6 181.9 469.2 L183.8 469.9 Q185.3 470.5 185.9 472.2 L186.8 474.5 Q187.4 476.2 187.5 478.9 L187.6 482.5 Q187.7 485.2 187.0 487.7 L186.0 490.9 Q185.3 493.4 183.6 495.9 L181.2 499.1 Q179.5 501.6 176.8 504.0 L173.3 507.3 Q170.6 509.7 168.6 510.4 L166.0 511.5 Q164.0 512.2 161.8 511.7 L158.9 511.1 Q156.7 510.6 155.5 508.6 L153.8 506.0 Q152.6 504.0 152.2 501.5 L151.7 498.3 Q151.3 495.8 151.5 493.4 L151.7 490.1 Q151.8 487.7 152.5 485.2 L153.5 482.0 Q154.2 479.5 155.4 478.0 L157.1 476.1 Q158.3 474.6 160.0 474.0 Z" stroke="#1a1a1a" stroke-width="0.98" fill="none" stroke-linejoin="round"/>
<text x="142.4" y="477" font-size="8" font-weight="bold" text-anchor="middle" fill="#000">1.94</text>
<path d="M268.3 510.6 L266.5 513.5" fill="none" stroke="#8e8e8e" stroke-width="11.2" stroke-linecap="round" stroke-linejoin="round"/>
<path d="M254 521.5 L263.5 519.3 L262.5 525 L256.5 529.6 L249.8 530.2 L250.2 526 Z" fill="#8e8e8e" stroke="#8e8e8e" stroke-width="9.3" stroke-linecap="round" stroke-linejoin="round"/>
<path d="M268.3 510.6 L266.5 513.5" fill="none" stroke="#fbfbfb" stroke-width="10.2" stroke-linecap="round" stroke-linejoin="round"/>
<path d="M254 521.5 L263.5 519.3 L262.5 525 L256.5 529.6 L249.8 530.2 L250.2 526 Z" fill="#fbfbfb" stroke="#fbfbfb" stroke-width="8.3" stroke-linecap="round" stroke-linejoin="round"/>
<path d="M268.3 510.6 L266.5 513.5" fill="none" stroke="#808080" stroke-width="8.9" stroke-linecap="round" stroke-linejoin="round"/>
<path d="M254 521.5 L263.5 519.3 L262.5 525 L256.5 529.6 L249.8 530.2 L250.2 526 Z" fill="#808080" stroke="#808080" stroke-width="7.0" stroke-linecap="round" stroke-linejoin="round"/>
<path d="M268.3 510.6 L266.5 513.5" fill="none" stroke="#efefef" stroke-width="7.9" stroke-linecap="round" stroke-linejoin="round"/>
<path d="M254 521.5 L263.5 519.3 L262.5 525 L256.5 529.6 L249.8 530.2 L250.2 526 Z" fill="#efefef" stroke="#efefef" stroke-width="6.0" stroke-linecap="round" stroke-linejoin="round"/>
<path d="M268.3 510.6 L266.5 513.5" fill="none" stroke="#747474" stroke-width="6.6" stroke-linecap="round" stroke-linejoin="round"/>
<path d="M254 521.5 L263.5 519.3 L262.5 525 L256.5 529.6 L249.8 530.2 L250.2 526 Z" fill="#747474" stroke="#747474" stroke-width="4.7" stroke-linecap="round" stroke-linejoin="round"/>
<path d="M268.3 510.6 L266.5 513.5" fill="none" stroke="#dcdcdc" stroke-width="5.6" stroke-linecap="round" stroke-linejoin="round"/>
<path d="M254 521.5 L263.5 519.3 L262.5 525 L256.5 529.6 L249.8 530.2 L250.2 526 Z" fill="#dcdcdc" stroke="#dcdcdc" stroke-width="3.7" stroke-linecap="round" stroke-linejoin="round"/>
<path d="M268.3 510.6 L266.5 513.5" fill="none" stroke="#666" stroke-width="4.3" stroke-linecap="round" stroke-linejoin="round"/>
<path d="M254 521.5 L263.5 519.3 L262.5 525 L256.5 529.6 L249.8 530.2 L250.2 526 Z" fill="#666" stroke="#666" stroke-width="2.4" stroke-linecap="round" stroke-linejoin="round"/>
<path d="M268.3 510.6 L266.5 513.5" fill="none" stroke="#c4c4c4" stroke-width="3.3" stroke-linecap="round" stroke-linejoin="round"/>
<path d="M254 521.5 L263.5 519.3 L262.5 525 L256.5 529.6 L249.8 530.2 L250.2 526 Z" fill="#c4c4c4" stroke="#c4c4c4" stroke-width="1.4" stroke-linecap="round" stroke-linejoin="round"/>
<path d="M268.3 510.6 L266.5 513.5" fill="none" stroke="#5c5c5c" stroke-width="2.0" stroke-linecap="round" stroke-linejoin="round"/>
<path d="M254 521.5 L263.5 519.3 L262.5 525 L256.5 529.6 L249.8 530.2 L250.2 526 Z" fill="#5c5c5c" stroke="#5c5c5c" stroke-width="0.1" stroke-linecap="round" stroke-linejoin="round"/>
<path d="M268.3 510.6 L266.5 513.5" fill="none" stroke="#b0b0b0" stroke-width="1.0" stroke-linecap="round" stroke-linejoin="round"/>
<path d="M254 521.5 L263.5 519.3 L262.5 525 L256.5 529.6 L249.8 530.2 L250.2 526 Z" fill="#b0b0b0" stroke="#b0b0b0" stroke-width="0.1" stroke-linecap="round" stroke-linejoin="round"/>
<g filter="url(#bl3)">
<path d="M262 512.6 L263.9 516.4" fill="none" stroke="#707070" stroke-width="4.5" stroke-linecap="round" stroke-linejoin="round"/>
<path d="M255 518.5 L264.6 517.8 L265 520.2 L263.4 524.2 L256.4 525.2" fill="none" stroke="#707070" stroke-width="4.8" stroke-linecap="round" stroke-linejoin="round"/>
<path d="M254.6 519 L251 526 L248.6 532.4" fill="none" stroke="#707070" stroke-width="5.3" stroke-linecap="round" stroke-linejoin="round"/>
<path d="M262 512.6 L263.9 516.4" fill="none" stroke="#2a2a2a" stroke-width="3.0" stroke-linecap="round" stroke-linejoin="round"/>
<path d="M255 518.5 L264.6 517.8 L265 520.2 L263.4 524.2 L256.4 525.2" fill="none" stroke="#2a2a2a" stroke-width="3.1" stroke-linecap="round" stroke-linejoin="round"/>
<path d="M254.6 519 L251 526 L248.6 532.4" fill="none" stroke="#2a2a2a" stroke-width="3.5" stroke-linecap="round" stroke-linejoin="round"/>
<path d="M262 512.6 L263.9 516.4" fill="none" stroke="#000" stroke-width="1.8" stroke-linecap="round" stroke-linejoin="round"/>
<path d="M255 518.5 L264.6 517.8 L265 520.2 L263.4 524.2 L256.4 525.2" fill="none" stroke="#000" stroke-width="2.0" stroke-linecap="round" stroke-linejoin="round"/>
<path d="M254.6 519 L251 526 L248.6 532.4" fill="none" stroke="#000" stroke-width="2.2" stroke-linecap="round" stroke-linejoin="round"/>
</g>
<ellipse cx="260.4" cy="521.4" rx="2.7" ry="1.2" fill="#f2f2f2" transform="rotate(-10 260.4 521.4)" filter="url(#bl2)"/>
<ellipse cx="249" cy="492.3" rx="2.3" ry="2.9" fill="none" stroke="#888" stroke-width="0.6"/><ellipse cx="249" cy="492.3" rx="0.8" ry="1.1" fill="none" stroke="#999" stroke-width="0.5"/>
<path d="M252.0 473.9 Q253.9 473.0 257.4 472.3 L261.9 471.5 Q265.4 470.8 266.9 471.2 L268.8 471.8 Q270.3 472.2 271.3 473.4 L272.5 475.0 Q273.5 476.2 273.5 481.1 L273.5 487.7 Q273.5 492.6 271.8 495.5 L269.5 499.5 Q267.8 502.4 265.6 504.9 L262.7 508.1 Q260.5 510.6 258.0 511.7 L254.8 513.1 Q252.3 514.2 249.8 513.8 L246.6 513.4 Q244.1 513.0 242.6 511.5 L240.7 509.6 Q239.2 508.1 238.9 505.4 L238.4 501.8 Q238.1 499.1 238.3 496.2 L238.7 492.2 Q238.9 489.3 239.9 486.8 L241.2 483.6 Q242.2 481.1 243.8 479.5 L245.8 477.5 Q247.4 475.9 249.3 475.0 Z" stroke="#1a1a1a" stroke-width="0.98" fill="none" stroke-linejoin="round"/>
<text x="228.6" y="479.2" font-size="8" font-weight="bold" text-anchor="middle" fill="#000">2.61</text>
<path d="M467.3 505.8 L448 526.8 L461.2 528.2 Z" fill="#8e8e8e" stroke="#8e8e8e" stroke-width="9.3" stroke-linecap="round" stroke-linejoin="round"/>
<path d="M467.3 505.8 L448 526.8 L461.2 528.2 Z" fill="#fbfbfb" stroke="#fbfbfb" stroke-width="8.3" stroke-linecap="round" stroke-linejoin="round"/>
<path d="M467.3 505.8 L448 526.8 L461.2 528.2 Z" fill="#808080" stroke="#808080" stroke-width="7.0" stroke-linecap="round" stroke-linejoin="round"/>
<path d="M467.3 505.8 L448 526.8 L461.2 528.2 Z" fill="#efefef" stroke="#efefef" stroke-width="6.0" stroke-linecap="round" stroke-linejoin="round"/>
<path d="M467.3 505.8 L448 526.8 L461.2 528.2 Z" fill="#747474" stroke="#747474" stroke-width="4.7" stroke-linecap="round" stroke-linejoin="round"/>
<path d="M467.3 505.8 L448 526.8 L461.2 528.2 Z" fill="#dcdcdc" stroke="#dcdcdc" stroke-width="3.7" stroke-linecap="round" stroke-linejoin="round"/>
<path d="M467.3 505.8 L448 526.8 L461.2 528.2 Z" fill="#666" stroke="#666" stroke-width="2.4" stroke-linecap="round" stroke-linejoin="round"/>
<path d="M467.3 505.8 L448 526.8 L461.2 528.2 Z" fill="#c4c4c4" stroke="#c4c4c4" stroke-width="1.4" stroke-linecap="round" stroke-linejoin="round"/>
<path d="M467.3 505.8 L448 526.8 L461.2 528.2 Z" fill="#5c5c5c" stroke="#5c5c5c" stroke-width="0.1" stroke-linecap="round" stroke-linejoin="round"/>
<path d="M467.3 505.8 L448 526.8 L461.2 528.2 Z" fill="#b0b0b0" stroke="#b0b0b0" stroke-width="0.1" stroke-linecap="round" stroke-linejoin="round"/>
<g filter="url(#bl3)">
<path d="M454.5 518.2 Q458 515.6 461.6 518.2 Q463.6 521.8 461.6 525.2 Q458 527.8 454.5 525.2 Q452.6 521.8 454.5 518.2 Z" fill="none" stroke="#707070" stroke-width="4.0" stroke-linecap="round" stroke-linejoin="round"/>
<path d="M463 516 L465 511" fill="none" stroke="#707070" stroke-width="3.9" stroke-linecap="round" stroke-linejoin="round"/>
<path d="M445.6 529 L448.5 527.6" fill="none" stroke="#707070" stroke-width="4.5" stroke-linecap="round" stroke-linejoin="round"/>
<path d="M454.5 518.2 Q458 515.6 461.6 518.2 Q463.6 521.8 461.6 525.2 Q458 527.8 454.5 525.2 Q452.6 521.8 454.5 518.2 Z" fill="none" stroke="#2a2a2a" stroke-width="2.7" stroke-linecap="round" stroke-linejoin="round"/>
<path d="M463 516 L465 511" fill="none" stroke="#2a2a2a" stroke-width="2.6" stroke-linecap="round" stroke-linejoin="round"/>
<path d="M445.6 529 L448.5 527.6" fill="none" stroke="#2a2a2a" stroke-width="3.0" stroke-linecap="round" stroke-linejoin="round"/>
<path d="M454.5 518.2 Q458 515.6 461.6 518.2 Q463.6 521.8 461.6 525.2 Q458 527.8 454.5 525.2 Q452.6 521.8 454.5 518.2 Z" fill="none" stroke="#000" stroke-width="1.7" stroke-linecap="round" stroke-linejoin="round"/>
<path d="M463 516 L465 511" fill="none" stroke="#000" stroke-width="1.6" stroke-linecap="round" stroke-linejoin="round"/>
<path d="M445.6 529 L448.5 527.6" fill="none" stroke="#000" stroke-width="1.8" stroke-linecap="round" stroke-linejoin="round"/>
</g>
<ellipse cx="458" cy="521.8" rx="2.3" ry="2.1" fill="#e4e4e4" filter="url(#bl2)"/>
<ellipse cx="446.8" cy="494.5" rx="1.9" ry="1.6" fill="none" stroke="#777" stroke-width="0.8"/>
<path d="M448.9 473.9 Q450.9 473.0 454.3 472.3 L458.9 471.5 Q462.4 470.8 464.0 471.1 L466.0 471.5 Q467.6 471.8 468.7 473.0 L470.2 474.7 Q471.3 475.9 471.4 478.4 L471.6 481.8 Q471.7 484.4 471.1 487.3 L470.3 491.3 Q469.7 494.2 468.0 496.7 L465.7 499.9 Q464.0 502.4 461.8 504.6 L458.8 507.5 Q456.6 509.7 454.2 510.9 L450.9 512.6 Q448.5 513.8 446.2 513.4 L443.1 512.9 Q440.8 512.5 439.6 510.9 L437.9 508.9 Q436.7 507.3 436.3 504.6 L435.8 501.0 Q435.4 498.3 435.6 495.6 L436.0 492.0 Q436.2 489.3 437.2 486.8 L438.5 483.6 Q439.5 481.1 441.0 479.5 L442.9 477.5 Q444.4 475.9 446.3 475.0 Z" stroke="#1a1a1a" stroke-width="0.98" fill="none" stroke-linejoin="round"/>
<text x="425.9" y="479" font-size="8" font-weight="bold" text-anchor="middle" fill="#000">2.16</text>
<line x1="17" y1="456.5" x2="17" y2="478" stroke="#000" stroke-width="1.5"/>
<line x1="17" y1="514" x2="17" y2="535" stroke="#000" stroke-width="1.5"/>
<text x="19.4" y="496" font-size="11" font-weight="bold" text-anchor="middle" fill="#000" transform="rotate(-90 19.4 496)">Tet<tspan font-size="7.8" dy="-4">H60</tspan><tspan dy="4" font-size="0.1">&#8203;</tspan></text>
<line x1="27" y1="547.3" x2="241" y2="547.3" stroke="#000" stroke-width="1.5"/>
<line x1="267" y1="547.3" x2="480" y2="547.3" stroke="#000" stroke-width="1.5"/>
<text x="254.3" y="551.8" font-size="11.4" font-weight="bold" text-anchor="middle" fill="#000">CD8</text>
</g>
<g id="panelD">
<text x="7.8" y="583" font-size="16" font-weight="bold" text-anchor="start" fill="#000">D</text>
<line x1="43.3" y1="591.8" x2="43.3" y2="725.6" stroke="#000" stroke-width="2.1"/>
<line x1="42.3" y1="724.6" x2="240.5" y2="724.6" stroke="#000" stroke-width="2.1"/>
<line x1="39" y1="724.6" x2="43.3" y2="724.6" stroke="#000" stroke-width="1.8"/>
<text x="38" y="728.1" font-size="9.8" font-weight="bold" text-anchor="end" fill="#000">0</text>
<line x1="39" y1="698.24" x2="43.3" y2="698.24" stroke="#000" stroke-width="1.8"/>
<text x="38" y="701.74" font-size="9.8" font-weight="bold" text-anchor="end" fill="#000">20</text>
<line x1="39" y1="671.88" x2="43.3" y2="671.88" stroke="#000" stroke-width="1.8"/>
<text x="38" y="675.38" font-size="9.8" font-weight="bold" text-anchor="end" fill="#000">40</text>
<line x1="39" y1="645.52" x2="43.3" y2="645.52" stroke="#000" stroke-width="1.8"/>
<text x="38" y="649.02" font-size="9.8" font-weight="bold" text-anchor="end" fill="#000">60</text>
<line x1="39" y1="619.1600000000001" x2="43.3" y2="619.1600000000001" stroke="#000" stroke-width="1.8"/>
<text x="38" y="622.6600000000001" font-size="9.8" font-weight="bold" text-anchor="end" fill="#000">80</text>
<line x1="39" y1="592.8" x2="43.3" y2="592.8" stroke="#000" stroke-width="1.8"/>
<text x="38" y="596.3" font-size="9.8" font-weight="bold" text-anchor="end" fill="#000">100</text>
<line x1="55" y1="724.6" x2="55" y2="729.3" stroke="#000" stroke-width="1.8"/>
<text x="55" y="738.3" font-size="9.6" font-weight="bold" text-anchor="middle" fill="#000">9</text>
<line x1="80" y1="724.6" x2="80" y2="729.3" stroke="#000" stroke-width="1.8"/>
<text x="80" y="738.3" font-size="9.6" font-weight="bold" text-anchor="middle" fill="#000">9</text>
<line x1="105" y1="724.6" x2="105" y2="729.3" stroke="#000" stroke-width="1.8"/>
<text x="105" y="738.3" font-size="9.6" font-weight="bold" text-anchor="middle" fill="#000">14</text>
<line x1="130" y1="724.6" x2="130" y2="729.3" stroke="#000" stroke-width="1.8"/>
<text x="130" y="738.3" font-size="9.6" font-weight="bold" text-anchor="middle" fill="#000">14</text>
<line x1="155" y1="724.6" x2="155" y2="729.3" stroke="#000" stroke-width="1.8"/>
<text x="155" y="738.3" font-size="9.6" font-weight="bold" text-anchor="middle" fill="#000">22</text>
<line x1="180" y1="724.6" x2="180" y2="729.3" stroke="#000" stroke-width="1.8"/>
<text x="180" y="738.3" font-size="9.6" font-weight="bold" text-anchor="middle" fill="#000">28</text>
<line x1="205" y1="724.6" x2="205" y2="729.3" stroke="#000" stroke-width="1.8"/>
<text x="205" y="738.3" font-size="9.6" font-weight="bold" text-anchor="middle" fill="#000">34</text>
<line x1="230" y1="724.6" x2="230" y2="729.3" stroke="#000" stroke-width="1.8"/>
<text x="230" y="738.3" font-size="9.6" font-weight="bold" text-anchor="middle" fill="#000">42</text>
<text x="142.5" y="760.3" font-size="10.7" font-weight="bold" text-anchor="middle" fill="#000">Days post BMT</text>
<text x="18.6" y="663.5" font-size="11" font-weight="bold" text-anchor="middle" fill="#000" transform="rotate(-90 18.6 663.5)">% Tet<tspan font-size="8" dy="-3.6">H60+</tspan><tspan dy="3.6" font-size="0.1">&#8203;</tspan> of CD8<tspan font-size="8" dy="-3.6">+</tspan><tspan dy="3.6" font-size="0.1">&#8203;</tspan></text>
<path d="M55.8 597.4 L49 611.6 L62.6 611.6 Z" stroke="#000" stroke-width="1" fill="#000" stroke-linejoin="round"/>
<path d="M45.0 600.9 L47.7 595.8 L50.4 600.9 Z" fill="none" stroke="#000" stroke-width="1.35" stroke-linejoin="round"/>
<path d="M52.7 602.9 L55.4 597.8 L58.1 602.9 Z" fill="none" stroke="#000" stroke-width="1.35" stroke-linejoin="round"/>
<path d="M52.7 604.9 L55.4 599.8 L58.1 604.9 Z" fill="none" stroke="#000" stroke-width="1.35" stroke-linejoin="round"/>
<path d="M52.7 606.9 L55.4 601.8 L58.1 606.9 Z" fill="none" stroke="#000" stroke-width="1.35" stroke-linejoin="round"/>
<path d="M52.7 608.9 L55.4 603.8 L58.1 608.9 Z" fill="none" stroke="#000" stroke-width="1.35" stroke-linejoin="round"/>
<path d="M52.7 610.4 L55.4 605.3 L58.1 610.4 Z" fill="none" stroke="#000" stroke-width="1.35" stroke-linejoin="round"/>
<path d="M49.8 611.4 L52.5 606.3 L55.2 611.4 Z" fill="none" stroke="#000" stroke-width="1.35" stroke-linejoin="round"/>
<path d="M52.7 612.4 L55.4 607.3 L58.1 612.4 Z" fill="none" stroke="#000" stroke-width="1.35" stroke-linejoin="round"/>
<path d="M55.6 611.4 L58.3 606.3 L61.0 611.4 Z" fill="none" stroke="#000" stroke-width="1.35" stroke-linejoin="round"/>
<path d="M51.1 607.4 L53.8 602.3 L56.5 607.4 Z" fill="none" stroke="#000" stroke-width="1.35" stroke-linejoin="round"/>
<path d="M54.3 607.4 L57.0 602.3 L59.7 607.4 Z" fill="none" stroke="#000" stroke-width="1.35" stroke-linejoin="round"/>
<line x1="47.7" y1="605.2" x2="64" y2="605.2" stroke="#000" stroke-width="1.5"/>
<rect x="70.2" y="603.7" width="4.8" height="4.8" fill="none" stroke="#000" stroke-width="1.45"/>
<rect x="82.1" y="599.0" width="4.8" height="4.8" fill="none" stroke="#000" stroke-width="1.45"/>
<rect x="77.9" y="605.9" width="4.8" height="4.8" fill="none" stroke="#000" stroke-width="1.45"/>
<rect x="73.9" y="612.9" width="4.8" height="4.8" fill="none" stroke="#000" stroke-width="1.45"/>
<rect x="82.1" y="612.9" width="4.8" height="4.8" fill="none" stroke="#000" stroke-width="1.45"/>
<rect x="78.0" y="614.4" width="4.8" height="4.8" fill="none" stroke="#000" stroke-width="1.45"/>
<rect x="76.1" y="611.4" width="4.8" height="4.8" fill="none" stroke="#000" stroke-width="1.45"/>
<rect x="80.1" y="611.4" width="4.8" height="4.8" fill="none" stroke="#000" stroke-width="1.45"/>
<rect x="78.0" y="612.6" width="4.8" height="4.8" fill="none" stroke="#000" stroke-width="1.45"/>
<line x1="71.8" y1="611.3" x2="89" y2="611.3" stroke="#000" stroke-width="1.5"/>
<path d="M105 604.8 L98.8 613.8 L112.2 613.8 Z" stroke="#000" stroke-width="1" fill="#000" stroke-linejoin="round"/>
<path d="M94.2 614.1 L96.9 609.1 L99.6 614.1 Z" fill="none" stroke="#000" stroke-width="1.35" stroke-linejoin="round"/>
<path d="M102.3 609.4 L105.0 604.3 L107.7 609.4 Z" fill="none" stroke="#000" stroke-width="1.35" stroke-linejoin="round"/>
<path d="M102.3 611.4 L105.0 606.3 L107.7 611.4 Z" fill="none" stroke="#000" stroke-width="1.35" stroke-linejoin="round"/>
<path d="M102.3 613.4 L105.0 608.3 L107.7 613.4 Z" fill="none" stroke="#000" stroke-width="1.35" stroke-linejoin="round"/>
<path d="M102.3 615.4 L105.0 610.3 L107.7 615.4 Z" fill="none" stroke="#000" stroke-width="1.35" stroke-linejoin="round"/>
<path d="M100.3 614.4 L103.0 609.3 L105.7 614.4 Z" fill="none" stroke="#000" stroke-width="1.35" stroke-linejoin="round"/>
<path d="M104.8 614.4 L107.5 609.3 L110.2 614.4 Z" fill="none" stroke="#000" stroke-width="1.35" stroke-linejoin="round"/>
<path d="M98.8 621.6 L101.5 616.5 L104.2 621.6 Z" fill="none" stroke="#000" stroke-width="1.35" stroke-linejoin="round"/>
<path d="M106.1 622.0 L108.8 616.9 L111.5 622.0 Z" fill="none" stroke="#000" stroke-width="1.35" stroke-linejoin="round"/>
<path d="M102.7 624.9 L105.4 619.8 L108.1 624.9 Z" fill="none" stroke="#000" stroke-width="1.35" stroke-linejoin="round"/>
<path d="M102.7 618.1 L105.4 613.1 L108.1 618.1 Z" fill="none" stroke="#000" stroke-width="1.35" stroke-linejoin="round"/>
<line x1="96.7" y1="613.8" x2="114" y2="613.8" stroke="#000" stroke-width="1.5"/>
<rect x="127.8" y="605.6" width="4.8" height="4.8" fill="none" stroke="#000" stroke-width="1.45"/>
<rect x="119.2" y="614.8" width="4.8" height="4.8" fill="none" stroke="#000" stroke-width="1.45"/>
<rect x="123.9" y="614.1" width="4.8" height="4.8" fill="none" stroke="#000" stroke-width="1.45"/>
<rect x="127.8" y="614.6" width="4.8" height="4.8" fill="none" stroke="#000" stroke-width="1.45"/>
<rect x="131.6" y="614.1" width="4.8" height="4.8" fill="none" stroke="#000" stroke-width="1.45"/>
<rect x="127.8" y="617.6" width="4.8" height="4.8" fill="none" stroke="#000" stroke-width="1.45"/>
<rect x="127.8" y="624.8" width="4.8" height="4.8" fill="none" stroke="#000" stroke-width="1.45"/>
<rect x="127.8" y="632.8" width="4.8" height="4.8" fill="none" stroke="#000" stroke-width="1.45"/>
<rect x="127.8" y="651.2" width="4.8" height="4.8" fill="none" stroke="#000" stroke-width="1.45"/>
<line x1="121" y1="623.3" x2="139" y2="623.3" stroke="#000" stroke-width="1.5"/>
<path d="M151.1 613.8 L153.8 608.7 L156.5 613.8 Z" fill="none" stroke="#000" stroke-width="1.35" stroke-linejoin="round"/>
<path d="M148.9 618.1 L151.6 613.0 L154.3 618.1 Z" fill="none" stroke="#000" stroke-width="1.35" stroke-linejoin="round"/>
<path d="M153.2 618.1 L155.9 613.0 L158.6 618.1 Z" fill="none" stroke="#000" stroke-width="1.35" stroke-linejoin="round"/>
<path d="M147.9 621.1 L150.6 616.1 L153.3 621.1 Z" fill="none" stroke="#000" stroke-width="1.35" stroke-linejoin="round"/>
<path d="M152.1 621.1 L154.8 616.1 L157.5 621.1 Z" fill="none" stroke="#000" stroke-width="1.35" stroke-linejoin="round"/>
<path d="M155.9 621.1 L158.6 616.1 L161.3 621.1 Z" fill="none" stroke="#000" stroke-width="1.35" stroke-linejoin="round"/>
<path d="M143.6 626.1 L146.3 621.0 L149.0 626.1 Z" fill="none" stroke="#000" stroke-width="1.35" stroke-linejoin="round"/>
<path d="M147.5 626.1 L150.2 621.0 L152.9 626.1 Z" fill="none" stroke="#000" stroke-width="1.35" stroke-linejoin="round"/>
<path d="M152.1 626.5 L154.8 621.4 L157.5 626.5 Z" fill="none" stroke="#000" stroke-width="1.35" stroke-linejoin="round"/>
<path d="M156.3 626.1 L159.0 621.0 L161.7 626.1 Z" fill="none" stroke="#000" stroke-width="1.35" stroke-linejoin="round"/>
<path d="M151.7 631.8 L154.4 626.7 L157.1 631.8 Z" fill="none" stroke="#000" stroke-width="1.35" stroke-linejoin="round"/>
<path d="M156.3 637.1 L159.0 632.0 L161.7 637.1 Z" fill="none" stroke="#000" stroke-width="1.35" stroke-linejoin="round"/>
<path d="M151.7 642.4 L154.4 637.3 L157.1 642.4 Z" fill="none" stroke="#000" stroke-width="1.35" stroke-linejoin="round"/>
<line x1="145.3" y1="621.4" x2="163.3" y2="621.4" stroke="#000" stroke-width="1.5"/>
<path d="M168.6 644.5 L171.3 639.4 L174.0 644.5 Z" fill="none" stroke="#000" stroke-width="1.35" stroke-linejoin="round"/>
<path d="M177.1 649.8 L179.8 644.7 L182.5 649.8 Z" fill="none" stroke="#000" stroke-width="1.35" stroke-linejoin="round"/>
<path d="M173.3 660.4 L176.0 655.3 L178.7 660.4 Z" fill="none" stroke="#000" stroke-width="1.35" stroke-linejoin="round"/>
<path d="M180.7 661.0 L183.4 655.9 L186.1 661.0 Z" fill="none" stroke="#000" stroke-width="1.35" stroke-linejoin="round"/>
<path d="M172.8 663.6 L175.5 658.5 L178.2 663.6 Z" fill="none" stroke="#000" stroke-width="1.35" stroke-linejoin="round"/>
<path d="M177.1 663.6 L179.8 658.5 L182.5 663.6 Z" fill="none" stroke="#000" stroke-width="1.35" stroke-linejoin="round"/>
<path d="M181.3 663.6 L184.0 658.5 L186.7 663.6 Z" fill="none" stroke="#000" stroke-width="1.35" stroke-linejoin="round"/>
<path d="M168.6 668.4 L171.3 663.3 L174.0 668.4 Z" fill="none" stroke="#000" stroke-width="1.35" stroke-linejoin="round"/>
<path d="M176.4 671.0 L179.1 665.9 L181.8 671.0 Z" fill="none" stroke="#000" stroke-width="1.35" stroke-linejoin="round"/>
<path d="M172.8 681.1 L175.5 676.0 L178.2 681.1 Z" fill="none" stroke="#000" stroke-width="1.35" stroke-linejoin="round"/>
<path d="M179.6 679.4 L182.3 674.3 L185.0 679.4 Z" fill="none" stroke="#000" stroke-width="1.35" stroke-linejoin="round"/>
<path d="M176.4 683.0 L179.1 677.9 L181.8 683.0 Z" fill="none" stroke="#000" stroke-width="1.35" stroke-linejoin="round"/>
<path d="M180.7 682.6 L183.4 677.5 L186.1 682.6 Z" fill="none" stroke="#000" stroke-width="1.35" stroke-linejoin="round"/>
<line x1="169.6" y1="665" x2="187.6" y2="665" stroke="#000" stroke-width="1.5"/>
<path d="M201.4 685.1 L204.1 680.0 L206.8 685.1 Z" fill="none" stroke="#000" stroke-width="1.35" stroke-linejoin="round"/>
<path d="M193.3 691.1 L196.0 686.0 L198.7 691.1 Z" fill="none" stroke="#000" stroke-width="1.35" stroke-linejoin="round"/>
<path d="M197.6 690.6 L200.3 685.5 L203.0 690.6 Z" fill="none" stroke="#000" stroke-width="1.35" stroke-linejoin="round"/>
<path d="M200.8 688.9 L203.5 683.8 L206.2 688.9 Z" fill="none" stroke="#000" stroke-width="1.35" stroke-linejoin="round"/>
<path d="M205.0 690.0 L207.7 684.9 L210.4 690.0 Z" fill="none" stroke="#000" stroke-width="1.35" stroke-linejoin="round"/>
<path d="M200.8 696.8 L203.5 691.7 L206.2 696.8 Z" fill="none" stroke="#000" stroke-width="1.35" stroke-linejoin="round"/>
<path d="M205.4 698.5 L208.1 693.4 L210.8 698.5 Z" fill="none" stroke="#000" stroke-width="1.35" stroke-linejoin="round"/>
<path d="M200.8 704.8 L203.5 699.7 L206.2 704.8 Z" fill="none" stroke="#000" stroke-width="1.35" stroke-linejoin="round"/>
<line x1="195" y1="689.7" x2="213" y2="689.7" stroke="#000" stroke-width="1.5"/>
<path d="M218.3 701.6 L221.0 696.5 L223.7 701.6 Z" fill="none" stroke="#000" stroke-width="1.35" stroke-linejoin="round"/>
<path d="M226.6 703.2 L229.3 698.2 L232.0 703.2 Z" fill="none" stroke="#000" stroke-width="1.35" stroke-linejoin="round"/>
<path d="M224.0 709.0 L226.7 703.9 L229.4 709.0 Z" fill="none" stroke="#000" stroke-width="1.35" stroke-linejoin="round"/>
<path d="M221.9 711.8 L224.6 706.7 L227.3 711.8 Z" fill="none" stroke="#000" stroke-width="1.35" stroke-linejoin="round"/>
<path d="M227.2 712.1 L229.9 707.1 L232.6 712.1 Z" fill="none" stroke="#000" stroke-width="1.35" stroke-linejoin="round"/>
<path d="M226.1 715.4 L228.8 710.3 L231.5 715.4 Z" fill="none" stroke="#000" stroke-width="1.35" stroke-linejoin="round"/>
<path d="M230.4 715.4 L233.1 710.3 L235.8 715.4 Z" fill="none" stroke="#000" stroke-width="1.35" stroke-linejoin="round"/>
<line x1="220" y1="707.1" x2="237.7" y2="707.1" stroke="#000" stroke-width="1.5"/>
<path d="M188.3 582.4 L191.0 577.3 L193.7 582.4 Z" fill="none" stroke="#000" stroke-width="1.35" stroke-linejoin="round"/>
<rect x="188.7" y="593.7" width="4.6" height="4.6" fill="none" stroke="#000" stroke-width="1.4"/>
<text x="203.8" y="584.2" font-size="10.8" text-anchor="start" fill="#000">T<tspan font-size="8" dy="2.6">MH60</tspan><tspan dy="-2.6" font-size="0.1">&#8203;</tspan> (H60<tspan font-size="7.6" dy="-3.8">+</tspan><tspan dy="3.8" font-size="0.1">&#8203;</tspan>BC-CML)</text>
<text x="203.8" y="600.2" font-size="10.8" text-anchor="start" fill="#000">T<tspan font-size="8" dy="2.6">MH60</tspan><tspan dy="-2.6" font-size="0.1">&#8203;</tspan> (H60<tspan font-size="7.6" dy="-3.8">-</tspan><tspan dy="3.8" font-size="0.1">&#8203;</tspan> BC-CML)</text>
</g>
</svg>
</body></html>
